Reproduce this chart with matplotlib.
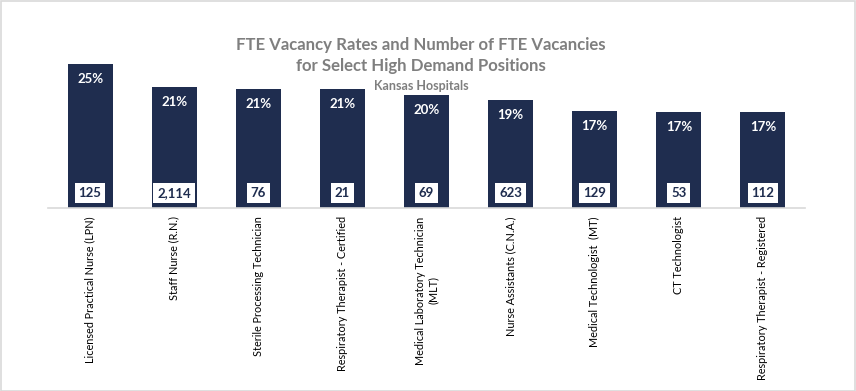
import matplotlib
matplotlib.use("Agg")
import matplotlib.pyplot as plt
from matplotlib.patches import Rectangle

categories = [
    "Licensed Practical Nurse (LPN)",
    "Staff Nurse (R.N.)",
    "Sterile Processing Technician",
    "Respiratory Therapist - Certified",
    "Medical Laboratory Technician\n(MLT)",
    "Nurse Assistants (C.N.A.)",
    "Medical Technologist  (MT)",
    "CT Technologist",
    "Respiratory Therapist - Registered",
]
vacancy_rates = [0.250, 0.210, 0.207, 0.206, 0.197, 0.188, 0.169, 0.167, 0.166]
vacancy_counts = [125, 2114, 76, 21, 69, 623, 129, 53, 112]

FONT = ["Lato", "DejaVu Sans"]
NAVY = "#1F2D4F"

W, H = 856, 391
fig = plt.figure(figsize=(W / 100, H / 100), dpi=100)
fig.patch.set_facecolor("white")
fig.patches.append(Rectangle((0.5 / W, 0.5 / H), 1 - 1.5 / W, 1 - 1.5 / H,
                             transform=fig.transFigure, fill=False,
                             edgecolor="#D9D9D9", linewidth=1.2))

ax = fig.add_axes([48 / W, 1 - 208 / H, (805 - 48) / W, (208 - 64) / H])
x = list(range(len(categories)))
ax.bar(x, vacancy_rates, width=0.535, color=NAVY, zorder=2)
ax.set_xlim(-0.5, len(categories) - 0.5)
ax.set_ylim(0, 0.25)
for s in ["top", "right", "left"]:
    ax.spines[s].set_visible(False)
ax.spines["bottom"].set_color("#D9D9D9")
ax.spines["bottom"].set_linewidth(1.2)
ax.set_yticks([])
ax.set_xticks(x)
ax.set_xticklabels(categories, rotation=90, fontsize=7.8, family=FONT,
                   color="black", va="top", ha="center", multialignment="center")
ax.tick_params(axis="x", length=0, pad=6)

for i, (r, c) in enumerate(zip(vacancy_rates, vacancy_counts)):
    ax.annotate(f"{int(r * 100 + 0.5):d}%", (i, r), xytext=(0, -15),
                textcoords="offset pixels", ha="center", va="center",
                color="white", fontsize=9.5, fontweight="bold", family=FONT)
    ax.annotate(f"{c:,}", (i, 0), xytext=(0, 15), textcoords="offset pixels",
                ha="center", va="center", color=NAVY, fontsize=9.5,
                fontweight="bold", family=FONT,
                bbox=dict(boxstyle="square,pad=0.3", facecolor="white",
                          edgecolor="none"))

fig.text(421 / W, 1 - 45 / H, "FTE Vacancy Rates and Number of FTE Vacancies",
         ha="center", va="center", fontsize=12.1, fontweight="bold",
         color="#7F7F7F", family=FONT)
fig.text(421 / W, 1 - 66 / H, "for Select High Demand Positions",
         ha="center", va="center", fontsize=12.1, fontweight="bold",
         color="#7F7F7F", family=FONT)
fig.text(421 / W, 1 - 86 / H, "Kansas Hospitals",
         ha="center", va="center", fontsize=9, fontweight="bold",
         color="#7F7F7F", family=FONT)

fig.savefig("out.png", dpi=100)
